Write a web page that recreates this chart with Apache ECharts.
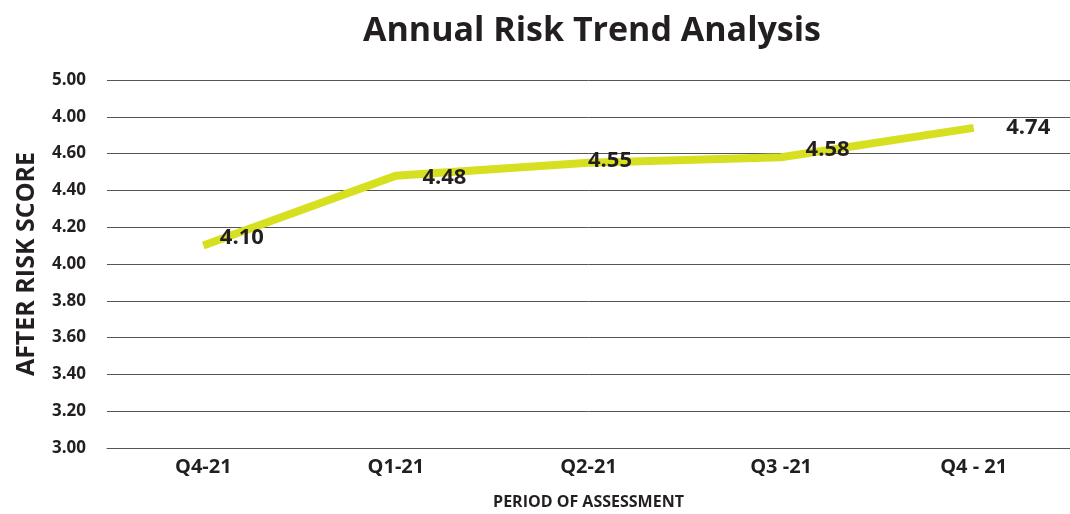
<!DOCTYPE html>
<html>
<head>
<meta charset="utf-8">
<script src="https://cdn.jsdelivr.net/npm/echarts@6/dist/echarts.min.js"></script>
<style>
  html, body { margin: 0; padding: 0; background: #fff; }
  #chart { width: 1070px; height: 514px; }
</style>
</head>
<body>
<div id="chart"></div>
<script>
const periods = ['Q4-21', 'Q1-21', 'Q2-21', 'Q3 -21', 'Q4 - 21']
const riskScores = [4.10, 4.48, 4.55, 4.58, 4.74]
// tick labels as printed (second one really says 4.00)
const yTickLabels = ['3.00', '3.20', '3.40', '3.60', '3.80', '4.00', '4.20', '4.40', '4.60', '4.00', '5.00']

// nudge of each value label [x, y]
const labelNudge = [[16, -8], [26, 2], [-1, -2], [24, -8], [32, 0]]

const font = 'Open Sans'
const ink = '#231f20'

const chart = echarts.init(document.getElementById('chart'))

chart.setOption({
  animation: false,
  title: {
    text: 'Annual Risk Trend Analysis',
    left: 358,
    top: 9,
    textStyle: { fontFamily: font, fontSize: 34, fontWeight: 'bold', color: ink },
  },
  grid: { left: 107, right: 0, top: 80, bottom: 66, outerBoundsMode: 'none' },
  xAxis: {
    type: 'category',
    data: periods,
    name: 'PERIOD OF ASSESSMENT',
    nameLocation: 'middle',
    nameGap: 46,
    nameTextStyle: { fontFamily: font, fontSize: 16, fontWeight: 'bold', color: ink },
    axisLine: { lineStyle: { color: '#555', width: 1 } },
    axisTick: { show: false },
    axisLabel: { fontFamily: font, fontSize: 20, fontWeight: 'bold', color: ink, margin: 9 },
  },
  yAxis: {
    type: 'value',
    min: 3,
    max: 5,
    interval: 0.2,
    name: 'AFTER RISK SCORE',
    nameLocation: 'middle',
    nameGap: 68,
    nameTextStyle: { fontFamily: font, fontSize: 25, fontWeight: 'bold', color: ink },
    axisLine: { show: false },
    axisTick: { show: false },
    axisLabel: {
      fontFamily: font,
      fontSize: 17,
      fontWeight: 'bold',
      color: ink,
      margin: 21,
      formatter: (v) => yTickLabels[Math.round((v - 3) / 0.2)],
    },
    splitLine: { lineStyle: { color: '#555', width: 1 } },
  },
  series: [
    {
      type: 'line',
      data: riskScores.map((v, i) => ({
        value: v,
        label: { offset: labelNudge[i] },
      })),
      symbol: 'circle',
      symbolSize: 1,
      showSymbol: true,
      itemStyle: { color: 'rgba(0,0,0,0)' },
      lineStyle: { color: '#d6e021', width: 8, cap: 'butt', join: 'miter' },
      label: {
        show: true,
        position: 'right',
        distance: 0,
        formatter: (p) => p.value.toFixed(2),
        fontFamily: font,
        fontSize: 22,
        fontWeight: 'bold',
        color: ink,
      },
    },
  ],
})
</script>
</body>
</html>
